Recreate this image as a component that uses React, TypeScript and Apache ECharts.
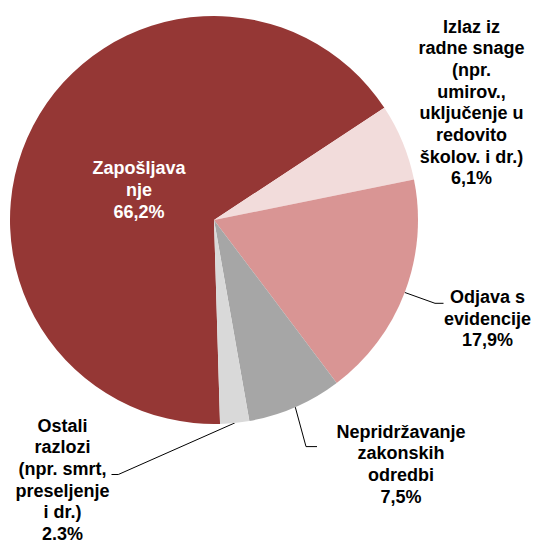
import React, { useEffect, useRef } from 'react';
import * as echarts from 'echarts';

const categories = [
  'Zapošljava\nnje',
  'Izlaz iz\nradne snage\n(npr.\numirov.,\nuključenje u\nredovito\nškolov. i dr.)',
  'Odjava s\nevidencije',
  'Nepridržavanje\nzakonskih\nodredbi',
  'Ostali\nrazlozi\n(npr. smrt,\npreseljenje\ni dr.)',
];
const values = [66.2, 6.1, 17.9, 7.5, 2.3];
const percentLabels = ['66,2%', '6,1%', '17,9%', '7,5%', '2.3%'];
const colors = ['#953735', '#F2DCDB', '#D99594', '#A6A6A6', '#D9D9D9'];

// label placement: [center x, top y]
const labelAnchors: number[][] = [
  [139, 157.5],
  [471.5, 15.7],
  [487.5, 286],
  [401, 420.8],
  [62.5, 414.8],
];
// leader line bend and end points (start is taken from the pie edge)
const leaderPaths: (number[][] | null)[] = [
  null,
  null,
  [[435, 303.3], [443.5, 303.3]],
  [[306, 446.6], [317, 446.6]],
  [[118.3, 474.5], [111.5, 474.5]],
];

const CENTER = [214, 220];
const RADIUS = 204;
const START_ANGLE = 271.7;

function edgePoint(i: number): number[] {
  const total = values.reduce((a, b) => a + b, 0);
  let before = 0;
  for (let k = 0; k < i; k++) before += values[k];
  const mid = before + values[i] / 2;
  const ang = ((START_ANGLE - (mid / total) * 360) * Math.PI) / 180;
  return [CENTER[0] + RADIUS * Math.cos(ang), CENTER[1] - RADIUS * Math.sin(ang)];
}

export default function App() {
  const ref = useRef<HTMLDivElement>(null);
  useEffect(() => {
    if (!ref.current) return;
    const chart = echarts.init(ref.current, undefined, { renderer: 'svg' });
    const font = {
      fontFamily: '"Liberation Sans", Arial, sans-serif',
      fontWeight: 'bold' as const,
      fontSize: 18,
      lineHeight: 21.7,
    };
    chart.setOption({
      animation: false,
      backgroundColor: '#ffffff',
      series: [
        {
          type: 'pie',
          center: CENTER,
          radius: RADIUS,
          startAngle: START_ANGLE,
          clockwise: true,
          avoidLabelOverlap: false,
          label: {
            show: true,
            position: 'outside',
            color: '#000000',
            ...font,
            formatter: (p: any) => `${categories[p.dataIndex]}\n${percentLabels[p.dataIndex]}`,
          },
          labelLine: {
            show: true,
            length: 10,
            length2: 10,
            lineStyle: { color: '#000000', width: 1 },
          },
          labelLayout: (params: any) => {
            const i = params.dataIndex;
            const [x, y] = labelAnchors[i];
            const res: any = { x, y, align: 'center', verticalAlign: 'top' };
            const path = leaderPaths[i];
            if (path) {
              const start =
                params.labelLinePoints && params.labelLinePoints[0]
                  ? params.labelLinePoints[0]
                  : edgePoint(i);
              res.labelLinePoints = [start, path[0], path[1]];
            }
            return res;
          },
          emphasis: { disabled: true },
          data: values.map((v, i) => ({
            name: categories[i],
            value: v,
            itemStyle: { color: colors[i] },
            label:
              i === 0
                ? { position: 'inside', color: '#ffffff' }
                : undefined,
            labelLine: i <= 1 ? { show: false } : undefined,
          })),
        },
      ],
    });
    return () => chart.dispose();
  }, []);
  return (
    <div
      ref={ref}
      style={{ position: 'fixed', left: 0, top: 0, width: 539, height: 545 }}
    />
  );
}
